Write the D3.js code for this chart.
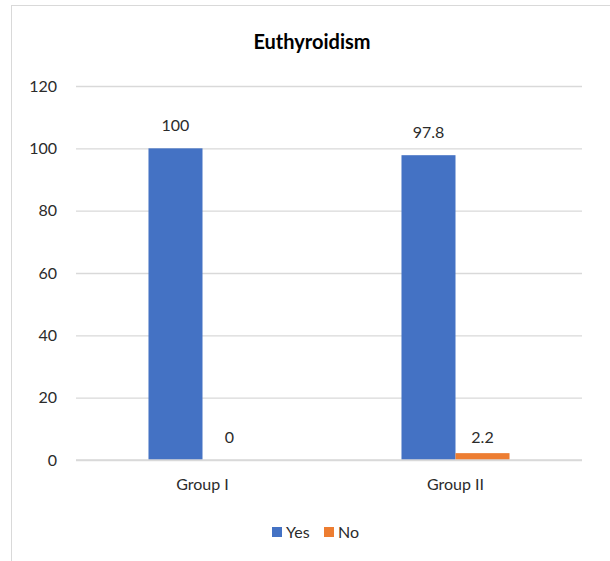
<!DOCTYPE html>
<html>
<head>
<meta charset="utf-8">
<script src="https://cdn.jsdelivr.net/npm/d3@7"></script>
<style>
  html, body { margin: 0; padding: 0; background: #fff; }
  svg { display: block; font-family: Lato, "Open Sans", sans-serif; }
</style>
</head>
<body>
<svg id="chart" width="610" height="561"></svg>
<script>
// Chart data
const categories = ["Group I", "Group II"];
const seriesNames = ["Yes", "No"];
const yesValues = [100, 97.8];
const noValues = [0, 2.2];
const yTicks = [0, 20, 40, 60, 80, 100, 120];
const colors = ["#4472C4", "#ED7D31"];

const svg = d3.select("#chart");
const W = 610, H = 561;
const margin = { left: 76, right: 28, top: 86, bottom: 101 };
const textColor = "#2b2b2b";

// Chart-area border
svg.append("rect")
  .attr("x", 11.5).attr("y", 5.5)
  .attr("width", 640).attr("height", 600)
  .attr("fill", "#fff").attr("stroke", "#d9d9d9").attr("stroke-width", 1);

const x0 = d3.scaleBand()
  .domain(categories)
  .range([margin.left, W - margin.right])
  .paddingInner(0.573)
  .paddingOuter(0.2865);

const x1 = d3.scaleBand()
  .domain(seriesNames)
  .range([0, x0.bandwidth()]);

const y = d3.scaleLinear()
  .domain([0, 120])
  .range([H - margin.bottom, margin.top]);

// Gridlines and tick labels
const yAxis = d3.axisLeft(y).tickValues(yTicks).tickSize(-(W - margin.left - margin.right)).tickPadding(19);
const gy = svg.append("g").attr("transform", `translate(${margin.left},0)`).call(yAxis);
gy.select(".domain").remove();
gy.selectAll(".tick line").attr("stroke", "#d9d9d9").attr("stroke-width", 1.3);
gy.selectAll(".tick text").attr("fill", textColor).attr("font-size", 16).attr("font-family", "Lato, sans-serif");

// Title
svg.append("text")
  .attr("x", 312).attr("y", 49)
  .attr("text-anchor", "middle")
  .attr("font-size", 20).attr("font-weight", "bold").attr("fill", "#000")
  .text("Euthyroidism");

const table = categories.map((c, i) => ({ cat: c, values: [yesValues[i], noValues[i]] }));

const groups = svg.append("g").selectAll("g")
  .data(table).join("g")
  .attr("transform", d => `translate(${x0(d.cat)},0)`);

groups.selectAll("rect")
  .data(d => d.values.map((v, j) => ({ key: seriesNames[j], v, color: colors[j] })))
  .join("rect")
  .attr("x", d => x1(d.key))
  .attr("width", x1.bandwidth())
  .attr("y", d => y(d.v))
  .attr("height", d => y(0) - y(d.v))
  .attr("fill", d => d.color);

// Value labels
groups.selectAll("text.val")
  .data(d => d.values.map((v, j) => ({ key: seriesNames[j], v })))
  .join("text")
  .attr("class", "val")
  .attr("x", d => x1(d.key) + x1.bandwidth() / 2)
  .attr("y", d => (y(0) - y(d.v) < 10 ? y(0) : y(d.v)) - 23)
  .attr("dy", "0.35em")
  .attr("text-anchor", "middle")
  .attr("font-size", 16).attr("fill", textColor)
  .text(d => d.v);

// Baseline
svg.append("line")
  .attr("x1", margin.left).attr("x2", W - margin.right)
  .attr("y1", y(0)).attr("y2", y(0))
  .attr("stroke", "#d9d9d9").attr("stroke-width", 1.3);

// Category labels
svg.append("g").selectAll("text")
  .data(categories).join("text")
  .attr("x", d => x0(d) + x0.bandwidth() / 2)
  .attr("y", 484).attr("dy", "0.35em")
  .attr("text-anchor", "middle")
  .attr("font-size", 16).attr("fill", textColor)
  .text(d => d);

// Legend
const legendItems = [
  { name: seriesNames[0], color: colors[0], x: 272 },
  { name: seriesNames[1], color: colors[1], x: 324 }
];
const lg = svg.append("g").selectAll("g").data(legendItems).join("g")
  .attr("transform", d => `translate(${d.x},527)`);
lg.append("rect").attr("width", 10).attr("height", 10).attr("fill", d => d.color);
lg.append("text").attr("x", 14).attr("y", 5).attr("dy", "0.35em")
  .attr("font-size", 16).attr("fill", textColor).text(d => d.name);
</script>
</body>
</html>
